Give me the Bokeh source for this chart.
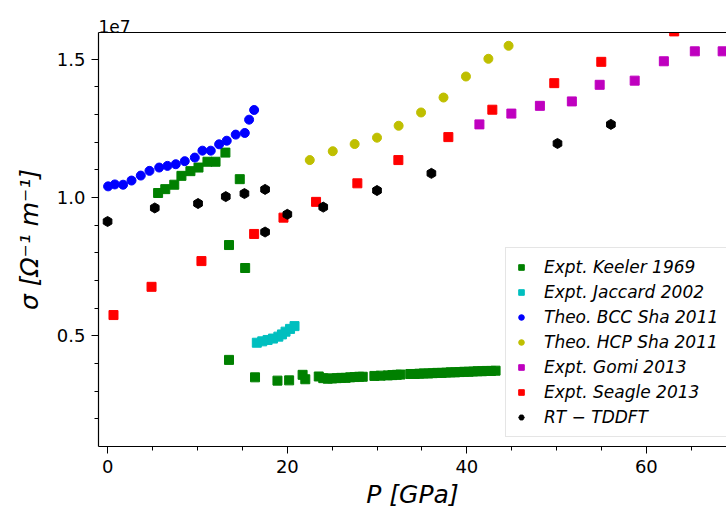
from bokeh.plotting import figure
from bokeh.models import (Range1d, SingleIntervalTicker, PrintfTickFormatter, Legend, LegendItem,
                          LinearAxis, FixedTicker)
from bokeh.embed import file_html
from bokeh.resources import INLINE

# conductivity in units of 1e7 S/m, pressure in GPa
keeler_p = [5.6, 6.4, 7.4, 8.2, 9.2, 10.1, 11.1, 12.0, 13.1, 14.7, 13.5, 15.3,
            13.5, 16.4, 18.9, 20.2, 21.7, 22.0, 23.5, 24.0, 24.5, 25.0, 25.5, 26.0,
            26.5, 27.0, 27.5, 28.0, 28.4, 29.7, 30.4, 31.2, 31.7, 32.2, 32.6, 33.7,
            34.2, 34.7, 35.2, 35.7, 36.2, 36.7, 37.2, 37.7, 38.2, 38.7, 39.2, 39.7,
            40.2, 40.7, 41.2, 41.7, 42.2, 42.7, 43.2]
keeler_s = [1.016, 1.030, 1.046, 1.078, 1.095, 1.108, 1.129, 1.129, 1.162, 1.066, 0.828, 0.745,
            0.413, 0.350, 0.338, 0.339, 0.359, 0.343, 0.353, 0.347, 0.345, 0.346, 0.347, 0.348,
            0.348, 0.350, 0.351, 0.352, 0.352, 0.355, 0.356, 0.357, 0.358, 0.359, 0.360, 0.362,
            0.362, 0.363, 0.364, 0.364, 0.365, 0.366, 0.366, 0.367, 0.368, 0.368, 0.369, 0.370,
            0.370, 0.371, 0.372, 0.372, 0.373, 0.373, 0.374]

jaccard_p = [16.6, 17.2, 17.8, 18.4, 19.0, 19.4, 19.8, 20.3, 20.8]
jaccard_s = [0.475, 0.480, 0.485, 0.490, 0.497, 0.505, 0.515, 0.525, 0.535]

bcc_p = [0.03, 0.78, 1.70, 2.64, 3.67, 4.64, 5.72, 6.64, 7.57, 8.57, 9.69, 10.54,
         11.47, 12.40, 13.25, 14.25, 15.26, 15.74, 16.30]
bcc_s = [1.040, 1.047, 1.046, 1.061, 1.079, 1.096, 1.108, 1.114, 1.120, 1.131, 1.144, 1.169,
         1.169, 1.192, 1.205, 1.227, 1.233, 1.281, 1.316]

hcp_p = [22.5, 25.06, 27.5, 29.99, 32.4, 34.9, 37.4, 39.9, 42.4, 44.65]
hcp_s = [1.135, 1.167, 1.193, 1.216, 1.259, 1.307, 1.361, 1.437, 1.501, 1.548]

gomi_p = [41.4, 44.96, 48.14, 51.7, 54.8, 58.7, 61.95, 65.4, 68.5]
gomi_s = [1.264, 1.303, 1.331, 1.347, 1.407, 1.422, 1.492, 1.528, 1.528]

seagle_p = [0.63, 4.87, 10.43, 16.3, 19.57, 23.2, 27.8, 32.37, 37.94, 42.84, 49.74, 54.98, 63.1]
seagle_s = [0.575, 0.677, 0.770, 0.868, 0.927, 0.984, 1.051, 1.135, 1.218, 1.317, 1.413, 1.490, 1.600]

rt_p = [-0.03, 5.23, 10.05, 13.14, 15.22, 17.52, 17.52, 20.0, 24.0, 29.99, 36.05, 50.1, 56.05]
rt_s = [0.913, 0.962, 0.978, 1.003, 1.014, 1.029, 0.875, 0.939, 0.965, 1.025, 1.087, 1.195, 1.264]

FONT = "DejaVu Sans"

p = figure(width=726, height=512, output_backend="svg", toolbar_location=None,
           x_range=Range1d(-1.04, 68.93), y_range=Range1d(0.10, 1.596),
           min_border_left=98, min_border_right=0, min_border_top=32, min_border_bottom=66)
p.xgrid.visible = False
p.ygrid.visible = False
p.outline_line_color = None
p.background_fill_color = "white"
p.border_fill_color = "white"

p.title.text = "1e7"
p.title.align = "left"
p.title.text_font_size = "17px"
p.title.text_font_style = "normal"
p.title.text_font = FONT
p.title.text_color = "black"
p.title.standoff = 0

# top spine only (no ticks, no labels)
top = LinearAxis(ticker=FixedTicker(ticks=[]), major_tick_line_color=None,
                 minor_tick_line_color=None, axis_line_color="black", axis_line_width=1.2)
p.add_layout(top, "above")

p.below[0].ticker = SingleIntervalTicker(interval=20, num_minor_ticks=4)
p.left[0].ticker = SingleIntervalTicker(interval=0.5, num_minor_ticks=5)
p.left[0].formatter = PrintfTickFormatter(format="%.1f")
for ax in (p.below[0], p.left[0]):
    ax.axis_line_color = "black"
    ax.axis_line_width = 1.2
    ax.major_tick_line_color = "black"
    ax.minor_tick_line_color = "black"
    ax.major_tick_in = 0
    ax.major_tick_out = 7
    ax.minor_tick_in = 0
    ax.minor_tick_out = 4
    ax.major_label_text_font = FONT
    ax.major_label_text_font_size = "18px"
    ax.major_label_text_color = "black"
    ax.axis_label_text_font = FONT
    ax.axis_label_text_font_size = "25px"
    ax.axis_label_text_font_style = "italic"
    ax.axis_label_text_color = "black"
p.below[0].axis_label = "P [GPa]"
p.left[0].axis_label = "σ [Ω⁻¹ m⁻¹]"
p.below[0].axis_label_standoff = 4
p.below[0].major_label_standoff = 6
p.left[0].axis_label_standoff = 10
p.left[0].major_label_standoff = 6

r1 = p.scatter(keeler_p, keeler_s, marker="square", size=9, color="#008000")
r2 = p.scatter(jaccard_p, jaccard_s, marker="square", size=9, color="#00bfbf")
r3 = p.scatter(bcc_p, bcc_s, marker="circle", size=9, color="#0000ff")
r4 = p.scatter(hcp_p, hcp_s, marker="circle", size=9, color="#bfbf00")
r5 = p.scatter(gomi_p, gomi_s, marker="square", size=9, color="#bf00bf")
r6 = p.scatter(seagle_p, seagle_s, marker="square", size=9, color="#ff0000")
r7 = p.scatter(rt_p, rt_s, marker="hex", size=10, angle=0.5236, color="black")

legend = Legend(items=[
    LegendItem(label="Expt. Keeler 1969", renderers=[r1]),
    LegendItem(label="Expt. Jaccard 2002", renderers=[r2]),
    LegendItem(label="Theo. BCC Sha 2011", renderers=[r3]),
    LegendItem(label="Theo. HCP Sha 2011", renderers=[r4]),
    LegendItem(label="Expt. Gomi 2013", renderers=[r5]),
    LegendItem(label="Expt. Seagle 2013", renderers=[r6]),
    LegendItem(label="RT − TDDFT", renderers=[r7]),
], location=(407, 9), padding=8, spacing=3, glyph_width=14, glyph_height=22,
   label_height=22, label_standoff=16, label_text_font=FONT, label_text_font_size="17px",
   label_text_font_style="italic", label_text_color="black",
   border_line_color="#cccccc", border_line_width=1, background_fill_alpha=0.85)
p.add_layout(legend)

open("out.html", "w").write(file_html(p, INLINE))
